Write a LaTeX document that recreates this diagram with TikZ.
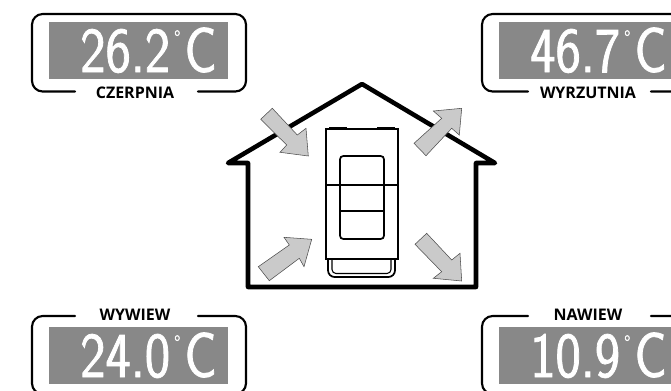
\documentclass[tikz,border=0pt]{standalone}
\usepackage{fontspec}
\newfontfamily\tagfont{Open Sans}
\newfontfamily\lcdfont{LMSans17-Regular}[FakeStretch=0.84, AutoFakeBold=1.2]
\usetikzlibrary{calc, positioning}
\definecolor{lcdgray}{HTML}{888888}
\definecolor{flowgray}{HTML}{CACACA}
\newcommand{\lcdvalue}[1]{#1\kern3pt\raisebox{0.42em}{\fontsize{16}{16}\selectfont °}\kern3pt C}
\tikzset{
  frame/.style={line width=1.6pt, rounded corners=8pt, line cap=round},
  lcd/.style={fill=lcdgray, draw=none},
  reading/.style={text=white, inner sep=0pt, anchor=base east, font=\lcdfont\bfseries\fontsize{48}{48}\selectfont},
  tag/.style={inner sep=0pt, font=\tagfont\bfseries\fontsize{12}{14}\selectfont},
  flow/.style={fill=flowgray, draw=black!70, line width=0.4pt, line join=miter},
  wall/.style={line width=3.4pt, line join=round, line cap=round},
  unit/.style={line width=1.3pt}
}
\begin{document}
\begin{tikzpicture}[x=0.75pt,y=-0.75pt]
\useasboundingbox (0,0) rectangle (671,390);

% top left panel
\draw[frame] (75,91.5) -- (32,91.5) -- (32,14) -- (246,14) -- (246,91.5) -- (198,91.5);
\fill[lcd] (49,22) rectangle (228,79);
\node[reading] (czerpniaval) at (217,72) {\lcdvalue{26.2}};
\node[tag] (czerpnia) at (135,93) {CZERPNIA};

% top right panel
\draw[frame] (528,91.5) -- (482,91.5) -- (482,14) -- (696,14) -- (696,91.5) -- (651,91.5);
\fill[lcd] (499,22) rectangle (678,79);
\node[reading] (wyrzutniaval) at (667,72) {\lcdvalue{46.7}};
\node[tag] (wyrzutnia) at (588,93) {WYRZUTNIA};

% bottom left panel
\draw[frame] (75,316) -- (32,316) -- (32,394) -- (246,394) -- (246,316) -- (198,316);
\fill[lcd] (49,327) rectangle (228,384);
\node[reading] (wywiewval) at (217,377) {\lcdvalue{24.0}};
\node[tag] (wywiew) at (135,315) {WYWIEW};

% bottom right panel
\draw[frame] (528,316) -- (482,316) -- (482,394) -- (696,394) -- (696,316) -- (651,316);
\fill[lcd] (499,327) rectangle (678,384);
\node[reading] (nawiewval) at (667,377) {\lcdvalue{10.9}};
\node[tag] (nawiew) at (588,315) {NAWIEW};

% house
\draw[wall] (248,287) -- (248,163) -- (228,163) -- (362,84) -- (495,163) -- (476,163) -- (476,287) -- cycle;

% unit
\draw[unit] (326,129) rectangle (398,259);
\draw[line width=1.9pt] (329,128.5) -- (347,128.5);
\draw[line width=1.9pt] (377,128.5) -- (395,128.5);
\draw[line width=1.7pt] (326,185) -- (398,185);
\draw[unit, rounded corners=2.5pt] (340,156) rectangle (384,239);
\draw[unit] (340,211) -- (384,211);
\draw[unit, rounded corners=5pt] (328,259) -- (328,277) -- (395,277) -- (395,259);
\draw[line width=0.8pt, rounded corners=3pt] (332,259) -- (332,273.5) -- (391,273.5) -- (391,259);

% arrows
\draw[flow] (272.3,108.3) -- (297.3,135) -- (306,128.3) -- (308.3,156) -- (280,152.3) -- (286.7,145) -- (260.7,119.3) -- cycle;
\draw[flow] (461.7,108.3) -- (433.3,111) -- (441.7,118.3) -- (414,143.3) -- (426,155.7) -- (451.7,128.3) -- (459.3,135) -- cycle;
\draw[flow] (258.3,266.7) -- (269.3,280.7) -- (299.3,258.3) -- (304,266.7) -- (311.7,239.3) -- (284,237.3) -- (289.3,245) -- cycle;
\draw[flow] (426.7,233.3) -- (415,244.3) -- (441.7,271.7) -- (433.3,278.3) -- (461.7,281) -- (460,253.3) -- (451.7,260) -- cycle;
\end{tikzpicture}
\end{document}
